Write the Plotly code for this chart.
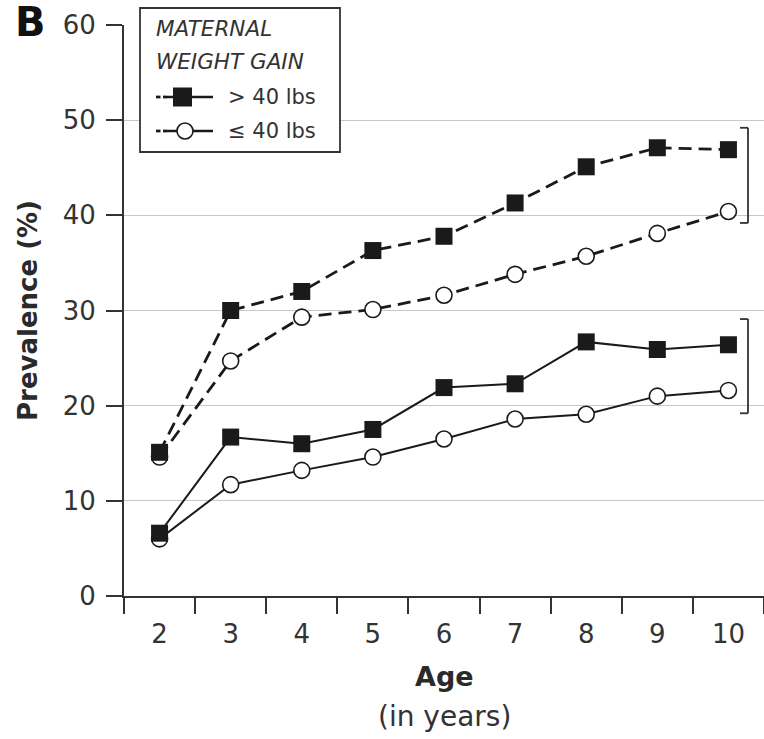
import plotly.graph_objects as go

# Prevalence (%) by child age, split by maternal weight gain
ages = ["2", "3", "4", "5", "6", "7", "8", "9", "10"]
dashed_over40 = [15.1, 30.0, 32.0, 36.3, 37.8, 41.3, 45.1, 47.1, 46.9]
dashed_upto40 = [14.6, 24.7, 29.3, 30.1, 31.6, 33.8, 35.7, 38.1, 40.4]
solid_over40 = [6.6, 16.7, 16.0, 17.5, 21.9, 22.3, 26.7, 25.9, 26.4]
solid_upto40 = [6.0, 11.7, 13.2, 14.6, 16.5, 18.6, 19.1, 21.0, 21.6]
y_ticks = [0, 10, 20, 30, 40, 50, 60]

FONT = "DejaVu Sans"
INK = "#1a1a1a"
TXT = "#333333"

# figure geometry (pixels) used to place decorations in paper space
W, H = 764, 739
ML, MR, MT, MB = 124, 0, 25, 143
PW, PH = W - ML - MR, H - MT - MB


def px(x):
    return (x - ML) / PW


def py(y):
    return (H - MB - y) / PH


fig = go.Figure()

circle_marker = dict(symbol="circle", size=16, color="white",
                     line=dict(color=INK, width=1.6))
square_marker = dict(symbol="square", size=17, color=INK,
                     line=dict(color=INK, width=0))

series = [
    (dashed_upto40, "13px,7px", 2.8, circle_marker),
    (solid_upto40, "solid", 2.0, circle_marker),
    (dashed_over40, "13px,7px", 2.8, square_marker),
    (solid_over40, "solid", 2.0, square_marker),
]
for vals, dash, lw, mk in series:
    fig.add_trace(go.Scatter(
        x=ages, y=vals, mode="lines+markers",
        line=dict(color=INK, width=lw, dash=dash),
        marker=mk, showlegend=False, hoverinfo="skip",
    ))

shapes = []
annotations = []

# brackets grouping the dashed and solid pairs at age 10
for top, bottom in [(49.2, 39.2), (29.1, 19.2)]:
    xa, xb = px(740), px(748)
    for (x0, y0, x1, y1) in [(xa, top, xb, top), (xb, top, xb, bottom),
                             (xa, bottom, xb, bottom)]:
        shapes.append(dict(type="line", xref="paper", yref="y",
                           x0=x0, y0=y0, x1=x1, y1=y1,
                           line=dict(color=TXT, width=1.8)))

# legend box
shapes.append(dict(type="rect", xref="paper", yref="paper",
                   x0=px(140), x1=px(340), y0=py(152), y1=py(8),
                   line=dict(color=TXT, width=1.8), fillcolor="white",
                   layer="above"))
legend_font = dict(family=FONT, size=21, color=TXT)
title_font = dict(family=FONT, size=21.5, color=TXT, style="italic")
annotations += [
    dict(text="MATERNAL", x=px(154), y=py(28.5), xref="paper",
         yref="paper", xanchor="left", yanchor="middle", showarrow=False,
         font=title_font),
    dict(text="WEIGHT GAIN", x=px(154), y=py(61.5), xref="paper",
         yref="paper", xanchor="left", yanchor="middle", showarrow=False,
         font=title_font),
    dict(text="&gt; 40 lbs", x=px(226), y=py(97), xref="paper",
         yref="paper", xanchor="left", yanchor="middle", showarrow=False,
         font=legend_font),
    dict(text="≤ 40 lbs", x=px(226), y=py(131), xref="paper",
         yref="paper", xanchor="left", yanchor="middle", showarrow=False,
         font=legend_font),
]
for gy, kind in [(97, "square"), (131, "circle")]:
    for a, b in [(156, 160.5), (163, 167)]:
        shapes.append(dict(type="line", xref="paper", yref="paper",
                           x0=px(a), x1=px(b), y0=py(gy), y1=py(gy),
                           line=dict(color=INK, width=2.8), layer="above"))
    shapes.append(dict(type="line", xref="paper", yref="paper",
                       x0=px(167), x1=px(213), y0=py(gy), y1=py(gy),
                       line=dict(color=INK, width=2.4), layer="above"))
    if kind == "square":
        shapes.append(dict(type="rect", xref="paper", yref="paper",
                           x0=px(173), x1=px(192), y0=py(gy + 9.5),
                           y1=py(gy - 9.5), fillcolor=INK,
                           line=dict(width=0), layer="above"))
    else:
        shapes.append(dict(type="circle", xref="paper", yref="paper",
                           x0=px(177), x1=px(193), y0=py(gy + 8),
                           y1=py(gy - 8), fillcolor="white",
                           line=dict(color=INK, width=1.6), layer="above"))

# axis titles and panel letter
annotations += [
    dict(text="Age", x=0.5, y=py(676), xref="paper", yref="paper",
         xanchor="center", yanchor="middle", showarrow=False,
         font=dict(family=FONT, size=27, color="#2a2a2a", weight="bold")),
    dict(text="(in years)", x=0.5, y=py(716), xref="paper", yref="paper",
         xanchor="center", yanchor="middle", showarrow=False,
         font=dict(family=FONT, size=28, color=TXT)),
    dict(text="Prevalence (%)", x=px(28), y=py(311), xref="paper",
         yref="paper", xanchor="center", yanchor="middle", textangle=-90,
         showarrow=False,
         font=dict(family=FONT, size=26, color="#2a2a2a", weight="bold")),
    dict(text="B", x=px(30), y=py(22), xref="paper", yref="paper",
         xanchor="center", yanchor="middle", showarrow=False,
         font=dict(family=FONT, size=40, color="#111111", weight="bold")),
]

fig.update_layout(
    width=W, height=H,
    margin=dict(l=ML, r=MR, t=MT, b=MB, pad=0),
    paper_bgcolor="white", plot_bgcolor="white",
    shapes=shapes, annotations=annotations,
    font=dict(family=FONT, color=TXT),
    xaxis=dict(
        type="category", categoryorder="array", categoryarray=ages,
        range=[-0.5, len(ages) - 0.5], tickson="boundaries",
        ticks="outside", ticklen=16, tickwidth=2, tickcolor=TXT,
        showline=True, linecolor=TXT, linewidth=2, showgrid=False,
        tickfont=dict(family=FONT, size=26, color=TXT),
        ticklabelstandoff=14, fixedrange=True,
    ),
    yaxis=dict(
        range=[0, 60], tickvals=y_ticks, ticks="outside", ticklen=16,
        tickwidth=2, tickcolor=TXT, showline=True, linecolor=TXT,
        linewidth=2, showgrid=True, gridcolor="#c8c8c8", gridwidth=1.2,
        zeroline=False, tickfont=dict(family=FONT, size=26, color=TXT),
        ticklabelstandoff=5, fixedrange=True,
    ),
)

fig.write_html("out.html")
